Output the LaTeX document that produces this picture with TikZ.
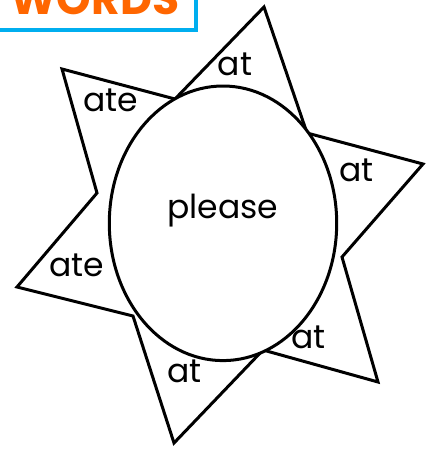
\documentclass[tikz,border=0pt]{standalone}
\usepackage{fontspec}
\setmainfont{Poppins}
\definecolor{wordorange}{RGB}{255,102,0}
\definecolor{wordblue}{RGB}{0,174,239}
\tikzset{
  shapeline/.style={line width=3pt, line join=miter, draw=black},
  lbl/.style={anchor=base, inner sep=0pt, font=\fontsize{33}{38}\selectfont},
}
\begin{document}
\begin{tikzpicture}[x=1pt, y=-1pt]
\useasboundingbox (0,0) rectangle (437,450);
\clip (0,0) rectangle (437,450);
\fill[white] (0,0) rectangle (437,450);
% title box
\draw[wordblue, line width=4.5pt] (-20,-20) rectangle (196,30);
\node[anchor=base, inner sep=0pt, text=wordorange, font=\fontsize{44}{50}\selectfont\bfseries] (title) at (95,14.5) {WORDS};
% star
\coordinate (o1) at (62,69);
\coordinate (i1) at (175,99);
\coordinate (o2) at (264,7);
\coordinate (i2) at (307,133);
\coordinate (o3) at (423,164);
\coordinate (i3) at (342,257);
\coordinate (o4) at (378,382);
\coordinate (i4) at (263,350);
\coordinate (o5) at (174,443);
\coordinate (i5) at (133,316);
\coordinate (o6) at (17,287);
\coordinate (i6) at (97,193);
\draw[shapeline] (o1) -- (i1) -- (o2) -- (i2) -- (o3) -- (i3) -- (o4) -- (i4) -- (o5) -- (i5) -- (o6) -- (i6) -- cycle;
% ellipse
\coordinate (c) at (223,223.3);
\draw[shapeline, fill=white] (c) ellipse [x radius=113.7pt, y radius=137.3pt];
% labels
\node[lbl] (please) at (223,218.3) {please};
\node[lbl] (at1) at (235,75) {at};
\node[lbl] (at2) at (356.7,181.7) {at};
\node[lbl] (at3) at (308.3,348.3) {at};
\node[lbl] (at4) at (184.3,382.7) {at};
\node[lbl] (ate1) at (76.7,276.7) {ate};
\node[lbl] (ate2) at (111,111.7) {ate};
\end{tikzpicture}
\end{document}
